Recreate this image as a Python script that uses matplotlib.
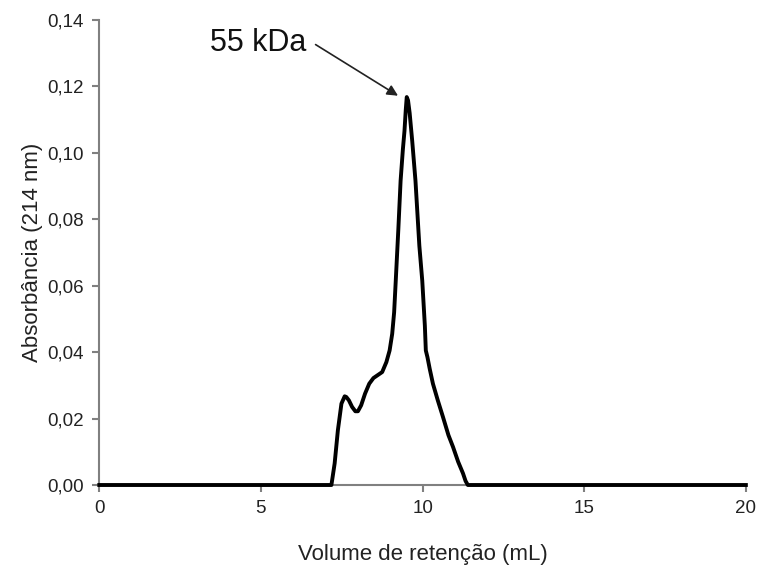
import matplotlib.pyplot as plt
from matplotlib.ticker import FuncFormatter

# chromatogram (volume in mL, absorbance at 214 nm)
volume = [0, 7.18, 7.28, 7.38, 7.49, 7.59, 7.64, 7.72, 7.82, 7.92, 8.0, 8.1,
          8.22, 8.35, 8.48, 8.6, 8.75, 8.88, 8.98, 9.06, 9.12, 9.17, 9.25,
          9.32, 9.39, 9.44, 9.48, 9.51, 9.55, 9.6, 9.68, 9.78, 9.9, 9.99,
          10.07, 10.1, 10.15, 10.22, 10.32, 10.47, 10.63, 10.8, 10.94, 11.1,
          11.25, 11.33, 11.4, 20]
absorb = [0, 0, 0.0065, 0.0165, 0.0245, 0.0267, 0.0265, 0.0255, 0.0235,
          0.0222, 0.0222, 0.024, 0.0275, 0.0305, 0.0322, 0.033, 0.034, 0.037,
          0.0405, 0.0455, 0.052, 0.0615, 0.077, 0.0916, 0.101, 0.1066, 0.113,
          0.1168, 0.1158, 0.112, 0.1035, 0.0916, 0.072, 0.0615, 0.048, 0.0405,
          0.0385, 0.035, 0.0305, 0.0255, 0.0205, 0.015, 0.0115, 0.007, 0.0035,
          0.0012, 0, 0]

peak_label = "55 kDa"
peak_xy = (9.24, 0.1172)
label_xy = (6.69, 0.1326)

plt.rcParams['font.family'] = ['Liberation Sans', 'DejaVu Sans']

fig = plt.figure(figsize=(7.58, 5.71), dpi=100)
ax = fig.add_axes([0.131, 0.1506, 0.853, 0.8144])

ax.plot(volume, absorb, color='black', lw=2.8, solid_joinstyle='round',
        zorder=3, clip_on=False)

ax.set_xlim(0, 20)
ax.set_ylim(0, 0.14)
ax.set_xticks([0, 5, 10, 15, 20])
ax.set_yticks([0, 0.02, 0.04, 0.06, 0.08, 0.10, 0.12, 0.14])
ax.yaxis.set_major_formatter(FuncFormatter(lambda v, p: f"{v:.2f}".replace('.', ',')))

for s in ['top', 'right']:
    ax.spines[s].set_visible(False)
for s in ['left', 'bottom']:
    ax.spines[s].set_color('#808080')
    ax.spines[s].set_linewidth(1.5)
ax.tick_params(axis='both', colors='#808080', width=1.5, length=5,
               labelcolor='#222222', labelsize=13.5)
ax.tick_params(axis='x', pad=6)
ax.tick_params(axis='y', pad=6)

ax.set_xlabel("Volume de retenção (mL)", fontsize=16, color='#222222', labelpad=19)
ax.set_ylabel("Absorbância (214 nm)", fontsize=16, color='#222222', labelpad=3)

ax.annotate("", xy=peak_xy, xytext=label_xy,
            arrowprops=dict(arrowstyle='-|>', color='#222222', lw=1.2,
                            mutation_scale=16, shrinkA=0, shrinkB=0))
ax.text(label_xy[0] - 0.3, label_xy[1] + 0.0005, peak_label, fontsize=22,
        ha='right', va='center', color='#111111')

fig.savefig("out.png", dpi=100)
